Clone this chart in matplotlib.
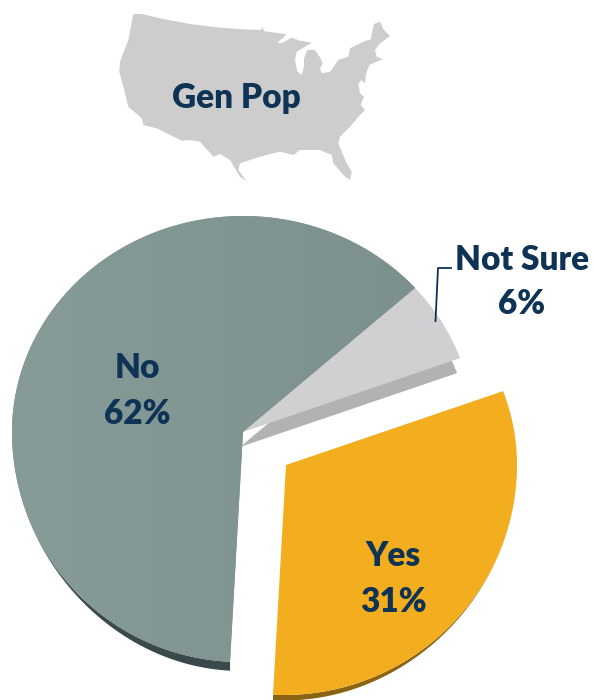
"""Gen Pop survey result: exploded pseudo-3D pie under a US map silhouette."""

import numpy as np
import matplotlib
matplotlib.use("Agg")  # headless
import matplotlib.pyplot as plt
from matplotlib.colors import LinearSegmentedColormap
from matplotlib.patches import Polygon

WIDTH, HEIGHT = 594, 700
NAVY = "#0F3355"

# pie data, clockwise from the top edge of the Yes slice
labels = ["Yes", "No", "Not Sure"]
values = [31, 62, 6]
colors = ["#F2AE1E", "#82968F", "#D0D0D2"]
side_colors = ["#8A6412", "#3A4A4C", "#B2B2B4"]

START_ANGLE = 20
CENTER = (243, 432)
RX = 231
RY_UP, RY_DOWN = 216, 230
LOWER_SHEAR = 2

# slice offsets in pixels
explode = [(43, 33), (0, 0), (0, 0)]
# rim thickness along the lower arc, and straight extrusion for the small slice
rim_depth = [5.5, 9, 0]
extrude = [(0, 0), (0, 0), (-3, 15)]

# US outline traced on a 3:1 grid, shifted to its place afterwards
map_x = [100, 125, 190, 270, 350, 430, 482, 487, 494, 525, 560, 530, 550, 575, 600,
         635, 615, 590, 585, 592, 605, 612, 612, 622, 645, 660, 668, 660, 665, 690,
         715, 745, 750, 790, 812, 822, 840, 852, 870, 840, 825, 830, 848, 830, 808,
         797, 795, 785, 775, 780, 792, 782, 795, 780, 750, 720, 715, 740, 755, 750,
         735, 700, 695, 660, 600, 580, 540, 480, 420, 415, 440, 420, 390, 360, 340,
         300, 270, 245, 170, 130, 125, 85, 70, 58, 60, 85]
map_y = [42, 42, 57, 72, 82, 88, 90, 82, 94, 98, 103, 130, 127, 113, 122,
         128, 140, 155, 180, 215, 225, 200, 175, 150, 150, 172, 190, 205, 220, 215,
         180, 170, 145, 125, 118, 72, 65, 90, 108, 130, 150, 170, 178, 185, 195,
         225, 250, 240, 250, 280, 290, 315, 330, 345, 380, 410, 430, 490, 515, 540,
         530, 490, 465, 450, 450, 465, 455, 470, 490, 510, 545, 530, 480, 462, 470,
         425, 420, 422, 385, 375, 355, 320, 260, 215, 185, 120]


def slice_arc(start, sweep, center):
    """Arc of one slice; the lower half of the ellipse is taller and leans left."""
    theta = np.radians(np.linspace(start, start - sweep, 240))
    sin_t = np.sin(theta)
    lower = np.clip(-sin_t, 0, 1)
    ry = np.where(sin_t >= 0, RY_UP, RY_DOWN)
    xs = center[0] + RX * np.cos(theta) - LOWER_SHEAR * lower ** 2
    ys = center[1] - ry * sin_t
    return np.column_stack([xs, ys]), lower


fig = plt.figure(figsize=(WIDTH / 100, HEIGHT / 100), dpi=100)
ax = fig.add_axes([0, 0, 1, 1])
ax.axis("off")

# map silhouette
outline = np.column_stack([100 + np.array(map_x) / 3, np.array(map_y) / 3])
ax.add_patch(Polygon(outline, closed=True, fc="#CDCDCD", ec="none"))
ax.text(236, 98.5, "Gen Pop", family="Lato", weight="heavy", fontsize=24,
        color=NAVY, ha="center", va="center")

sweeps = np.array(values) / sum(values) * 360
starts = START_ANGLE - np.r_[0, np.cumsum(sweeps)[:-1]]
for i in range(len(values)):
    center = (CENTER[0] + explode[i][0], CENTER[1] + explode[i][1])
    arc, lower = slice_arc(starts[i], sweeps[i], center)
    top = np.vstack([center, arc])

    # side faces sit under the top faces
    if rim_depth[i]:
        rim = arc + np.column_stack([np.zeros(len(arc)), rim_depth[i] * lower ** 3])
        ax.add_patch(Polygon(np.vstack([arc, rim[::-1]]), closed=True,
                             fc=side_colors[i], ec="none", zorder=2))
    else:
        ax.add_patch(Polygon(top + np.array(extrude[i]), closed=True,
                             fc=side_colors[i], ec="none", zorder=2))

    face = Polygon(top, closed=True, fc=colors[i], ec="none", zorder=3)
    ax.add_patch(face)
    if labels[i] == "No":
        # faint left-to-right shading on the large slice
        cmap = LinearSegmentedColormap.from_list("slate", ["#879B98", "#7C918D"])
        shade = ax.imshow(np.linspace(0, 1, 256)[None, :], cmap=cmap, aspect="auto",
                          extent=(0, 420, 700, 200), zorder=3.5)
        shade.set_clip_path(face)

ax.set_xlim(0, WIDTH)
ax.set_ylim(HEIGHT, 0)

# labels
label_pos = [(393, 556.5), (137, 368.5), (522, 259.5)]
for name, val, (x, y) in zip(labels, values, label_pos):
    ax.text(x, y, name, family="Lato", weight="heavy", fontsize=24,
            color=NAVY, ha="center", va="center", zorder=5)
    ax.text(x, y + 45, f"{val}%", family="Lato", weight="heavy", fontsize=24,
            color=NAVY, ha="center", va="center", zorder=5)

# leader line for Not Sure
ax.plot([451, 438, 435.5], [268, 268, 321], color=NAVY, lw=1.3, zorder=5)

fig.savefig("out.png", dpi=100)
